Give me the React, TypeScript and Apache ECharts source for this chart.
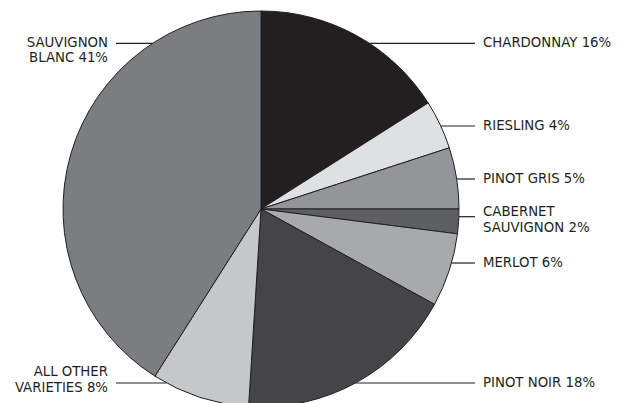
import React, { useEffect, useRef } from "react";
import * as echarts from "echarts";

const categories = [
  "CHARDONNAY",
  "RIESLING",
  "PINOT GRIS",
  "CABERNET\nSAUVIGNON",
  "MERLOT",
  "PINOT NOIR",
  "ALL OTHER\nVARIETIES",
  "SAUVIGNON\nBLANC",
];
const shares = [16, 4, 5, 2, 6, 18, 8, 41];
const colors = ["#231f20", "#dfe0e2", "#939598", "#5e5f62", "#a7a9ac", "#454547", "#c6c7c9", "#7c7d80"];

// label layout (pixel positions of the text blocks and leader lines)
const CX = 261;
const CY = 209;
const R = 198;
const labelSide = ["r", "r", "r", "r", "r", "r", "l", "l"];
const labelTextY = [42.5, 125.5, 178, 219.6, 262, 382.5, 379.3, 50];
const labelLineY = [43.3, 126, 179, 216.7, 263, 383, 383, 43.3];

export default function App() {
  const ref = useRef<HTMLDivElement>(null);
  useEffect(() => {
    document.body.style.margin = "0";
    const chart = echarts.init(ref.current!, undefined, { renderer: "svg" });
    chart.setOption({
      animation: false,
      backgroundColor: "#ffffff",
      series: [
        {
          type: "pie",
          center: [CX, CY],
          radius: [0, R],
          startAngle: 90,
          clockwise: true,
          avoidLabelOverlap: false,
          silent: true,
          data: categories.map((n, i) => ({
            name: n,
            value: shares[i],
            itemStyle: { color: colors[i] },
          })),
          itemStyle: { borderColor: "#231f20", borderWidth: 1 },
          label: {
            show: true,
            position: "outside",
            formatter: (p: any) => `${p.name} ${p.value}%`,
            color: "#231f20",
            fontFamily: "DejaVu Sans",
            fontSize: 13.3,
            lineHeight: 15.7,
          },
          labelLine: {
            show: true,
            length: 5,
            length2: 5,
            lineStyle: { color: "#231f20", width: 1.2 },
          },
          labelLayout: (params: any) => {
            const i = params.dataIndex;
            const right = labelSide[i] === "r";
            const ly = labelLineY[i];
            const dx = Math.sqrt(Math.max(0, R * R - (ly - CY) * (ly - CY)));
            const ex = right ? CX + dx : CX - dx;
            const endX = right ? 475 : 116;
            return {
              x: right ? 483 : 108,
              y: labelTextY[i],
              align: right ? "left" : "right",
              verticalAlign: "middle",
              labelLinePoints: [
                [ex, ly],
                [ex, ly],
                [endX, ly],
              ],
            };
          },
        },
      ],
    });
    return () => chart.dispose();
  }, []);
  return <div ref={ref} style={{ width: 629, height: 403 }} />;
}
